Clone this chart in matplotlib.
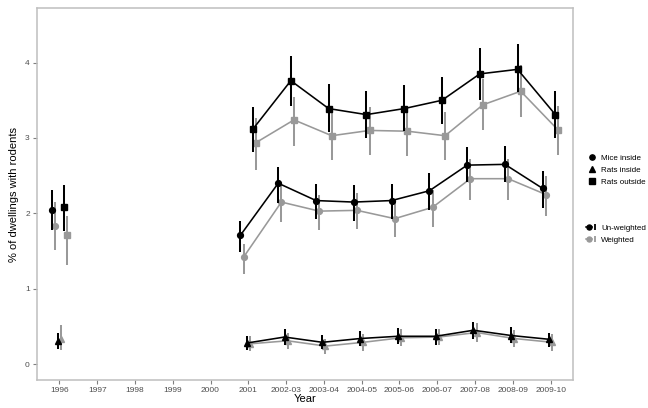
import numpy as np
import matplotlib
matplotlib.use("Agg")
import matplotlib.pyplot as plt
from matplotlib.lines import Line2D
from matplotlib.legend_handler import HandlerTuple

plt.rcParams['font.family'] = ['Liberation Sans', 'DejaVu Sans']

# Survey years on a discrete axis
years = ['1996', '1997', '1998', '1999', '2000', '2001', '2002-03', '2003-04',
         '2004-05', '2005-06', '2006-07', '2007-08', '2008-09', '2009-10']
N = np.nan

# Mice inside
mice_unw = [2.04, N, N, N, N, 1.71, 2.40, 2.17, 2.15, 2.17, 2.30, 2.64, 2.65, 2.33]
mice_unw_lo = [1.78, N, N, N, N, 1.49, 2.14, 1.92, 1.90, 1.92, 2.05, 2.41, 2.41, 2.07]
mice_unw_hi = [2.31, N, N, N, N, 1.90, 2.62, 2.39, 2.37, 2.39, 2.53, 2.88, 2.90, 2.56]
mice_w = [1.83, N, N, N, N, 1.42, 2.15, 2.03, 2.04, 1.93, 2.08, 2.46, 2.46, 2.25]
mice_w_lo = [1.51, N, N, N, N, 1.20, 1.89, 1.78, 1.79, 1.69, 1.82, 2.18, 2.18, 1.97]
mice_w_hi = [2.15, N, N, N, N, 1.60, 2.37, 2.25, 2.27, 2.17, 2.31, 2.72, 2.72, 2.49]

# Rats inside
rin_unw = [0.31, N, N, N, N, 0.28, 0.36, 0.29, 0.34, 0.37, 0.37, 0.45, 0.38, 0.33]
rin_unw_lo = [0.20, N, N, N, N, 0.19, 0.26, 0.20, 0.24, 0.27, 0.26, 0.33, 0.28, 0.23]
rin_unw_hi = [0.41, N, N, N, N, 0.375, 0.46, 0.39, 0.44, 0.48, 0.46, 0.56, 0.49, 0.42]
rin_w = [0.34, N, N, N, N, 0.27, 0.31, 0.24, 0.29, 0.35, 0.36, 0.42, 0.34, 0.29]
rin_w_lo = [0.19, N, N, N, N, 0.17, 0.20, 0.14, 0.18, 0.24, 0.25, 0.30, 0.23, 0.18]
rin_w_hi = [0.52, N, N, N, N, 0.37, 0.42, 0.34, 0.40, 0.46, 0.47, 0.54, 0.45, 0.40]

# Rats outside
rout_unw = [2.08, N, N, N, N, 3.12, 3.76, 3.39, 3.31, 3.39, 3.50, 3.85, 3.91, 3.31]
rout_unw_lo = [1.77, N, N, N, N, 2.82, 3.43, 3.08, 3.00, 3.09, 3.18, 3.51, 3.61, 3.00]
rout_unw_hi = [2.38, N, N, N, N, 3.41, 4.09, 3.71, 3.62, 3.70, 3.81, 4.19, 4.25, 3.62]
rout_w = [1.71, N, N, N, N, 2.94, 3.24, 3.03, 3.10, 3.09, 3.03, 3.44, 3.62, 3.10]
rout_w_lo = [1.31, N, N, N, N, 2.58, 2.90, 2.71, 2.77, 2.76, 2.71, 3.10, 3.28, 2.78]
rout_w_hi = [1.97, N, N, N, N, 3.27, 3.55, 3.33, 3.41, 3.40, 3.35, 3.78, 3.97, 3.42]

types = ['Mice inside', 'Rats inside', 'Rats outside']
weights = ['Un-weighted', 'Weighted']
markers = {'Mice inside': 'o', 'Rats inside': '^', 'Rats outside': 's'}
msizes = {'Mice inside': 4.2, 'Rats inside': 4.9, 'Rats outside': 4.1}
colours = {'Un-weighted': '#000000', 'Weighted': '#999999'}

series = [
    ('Mice inside', 'Un-weighted', mice_unw, mice_unw_lo, mice_unw_hi),
    ('Mice inside', 'Weighted', mice_w, mice_w_lo, mice_w_hi),
    ('Rats inside', 'Un-weighted', rin_unw, rin_unw_lo, rin_unw_hi),
    ('Rats inside', 'Weighted', rin_w, rin_w_lo, rin_w_hi),
    ('Rats outside', 'Un-weighted', rout_unw, rout_unw_lo, rout_unw_hi),
    ('Rats outside', 'Weighted', rout_w, rout_w_lo, rout_w_hi),
]

fig = plt.figure(figsize=(6.48, 4.08), dpi=100)
ax = fig.add_axes([36.7 / 648, 28 / 408, (573.3 - 36.7) / 648, (399.7 - 28) / 408])

x = np.arange(len(years))
dodge_width = 0.5
n_groups = len(series)
first_cont = years.index('2001')

for i, (typ, wt, vals, lo, hi) in enumerate(series):
    off = (i - (n_groups - 1) / 2) * dodge_width / n_groups
    xs = x + off
    v = np.array(vals, dtype=float)
    l = np.array(lo, dtype=float)
    h = np.array(hi, dtype=float)
    c = colours[wt]
    z = 3 if wt == 'Un-weighted' else 2
    # connecting line for the annual series (2001 onward)
    ax.plot(xs[first_cont:], v[first_cont:], color=c, lw=1.15, zorder=z)
    # confidence interval bars
    ok = ~np.isnan(v)
    ax.vlines(xs[ok], l[ok], h[ok], color=c, lw=1.45, zorder=z)
    ax.plot(xs[ok], v[ok], linestyle='none', marker=markers[typ],
            ms=msizes[typ], color=c, mec=c, zorder=z + 0.5)

ax.set_xlim(-0.6, len(years) - 1 + 0.6)
ax.set_ylim(-0.21, 4.72)
ax.set_xticks(x)
ax.set_xticklabels(years)
ax.set_yticks([0, 1, 2, 3, 4])

for s in ax.spines.values():
    s.set_color('#bfbfbf')
    s.set_linewidth(1.1)
ax.tick_params(axis='both', colors='#7f7f7f', length=3, width=0.8,
               labelsize=6, labelcolor='#4d4d4d', pad=2)

ax.set_xlabel('Year', fontsize=8, labelpad=0.3)
ax.set_ylabel('% of dwellings with rodents', fontsize=8, labelpad=4)

# shape legend
shape_handles = [Line2D([], [], linestyle='none', marker=markers[t], ms=msizes[t] - 0.4,
                        color='black') for t in types]
leg1 = fig.legend(shape_handles, types, loc='upper left',
                  bbox_to_anchor=(586 / 648, 1 - 154 / 408), frameon=False,
                  fontsize=5.8, handlelength=1.45, handletextpad=0.4,
                  labelspacing=0.55, borderaxespad=0, borderpad=0)

# colour legend: line + interval + point
col_handles = []
for w in weights:
    c = colours[w]
    col_handles.append((Line2D([], [], color=c, lw=1.1, marker='o', ms=3.6),
                        Line2D([], [], linestyle='none', marker='|', ms=5,
                               mew=1.3, color=c)))
leg2 = fig.legend(col_handles, weights, loc='upper left',
                  bbox_to_anchor=(586 / 648, 1 - 224 / 408), frameon=False,
                  fontsize=5.8, handlelength=1.45, handletextpad=0.4,
                  labelspacing=0.55, borderaxespad=0, borderpad=0,
                  handler_map={tuple: HandlerTuple(ndivide=None)})

fig.savefig('out.png', dpi=100)
